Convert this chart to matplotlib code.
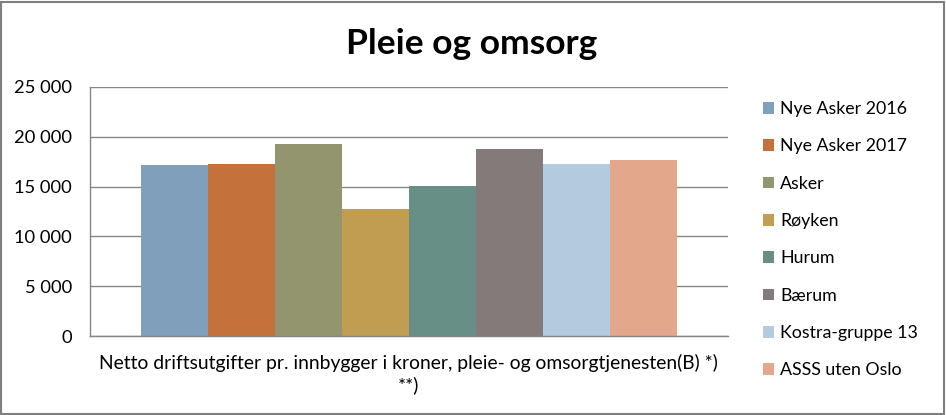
import matplotlib
matplotlib.use("Agg")
import matplotlib.pyplot as plt
from matplotlib.patches import Rectangle, Patch

categories = ["Netto driftsutgifter pr. innbygger i kroner, pleie- og omsorgtjenesten(B) *)\n**)"]
series_names = ["Nye Asker 2016", "Nye Asker 2017", "Asker", "Røyken", "Hurum",
                "Bærum", "Kostra-gruppe 13", "ASSS uten Oslo"]
series_values = [17200, 17300, 19320, 12740, 15070, 18820, 17300, 17700]
series_colors = ["#7F9FBA", "#C5713B", "#93956E", "#C09D50", "#678F86",
                 "#847A7A", "#B3CADF", "#E3A78C"]
yticks = [0, 5000, 10000, 15000, 20000, 25000]
ytick_labels = ["0", "5 000", "10 000", "15 000", "20 000", "25 000"]
title = "Pleie og omsorg"

plt.rcParams['font.family'] = ['Lato', 'DejaVu Sans']

W, H = 946, 415
fig = plt.figure(figsize=(W / 100, H / 100), dpi=100)
fig.patch.set_facecolor("white")

ax = fig.add_axes([90 / W, (H - 336) / H, (727.7 - 90) / W, (336 - 87) / H])

n = len(series_values)
group_width = 536 / 637.7
bw = group_width / n
for i, (v, c) in enumerate(zip(series_values, series_colors)):
    x = -group_width / 2 + bw * (i + 0.5)
    ax.bar(x, v, width=bw, color=c, edgecolor="none", zorder=2)

ax.set_xlim(-0.5, 0.5)
ax.set_ylim(0, 25000)
ax.set_yticks(yticks)
ax.set_yticklabels(ytick_labels, fontsize=13.2, color="black")
ax.set_xticks([0])
ax.set_xticklabels(categories, fontsize=13.9, color="black", linespacing=1.3)
ax.tick_params(axis="y", length=0, pad=13)
ax.tick_params(axis="x", length=0, pad=13)
ax.grid(axis="y", color="#868686", linewidth=1.0, zorder=1)
for s in ["top", "right"]:
    ax.spines[s].set_visible(False)
for s in ["left", "bottom"]:
    ax.spines[s].set_color("#868686")
    ax.spines[s].set_linewidth(1.0)

fig.text(472 / W, 1 - 44 / H, title, fontsize=25.5, fontweight="bold",
         ha="center", va="center")

handles = [Patch(facecolor=c, edgecolor="none") for c in series_colors]
fig.legend(handles, series_names, loc="upper left",
           bbox_to_anchor=(756 / W, 1 - 94 / H), frameon=False,
           fontsize=12.8, handlelength=0.62, handleheight=0.62,
           handletextpad=0.35, labelspacing=1.2, borderaxespad=0)

fig.patches.append(Rectangle((1.0 / W, 1.5 / H), (W - 3.5) / W, (H - 3.5) / H,
                             transform=fig.transFigure, fill=False,
                             edgecolor="#7F7F7F", linewidth=1.5))

fig.savefig("out.png", dpi=100, facecolor="white")
